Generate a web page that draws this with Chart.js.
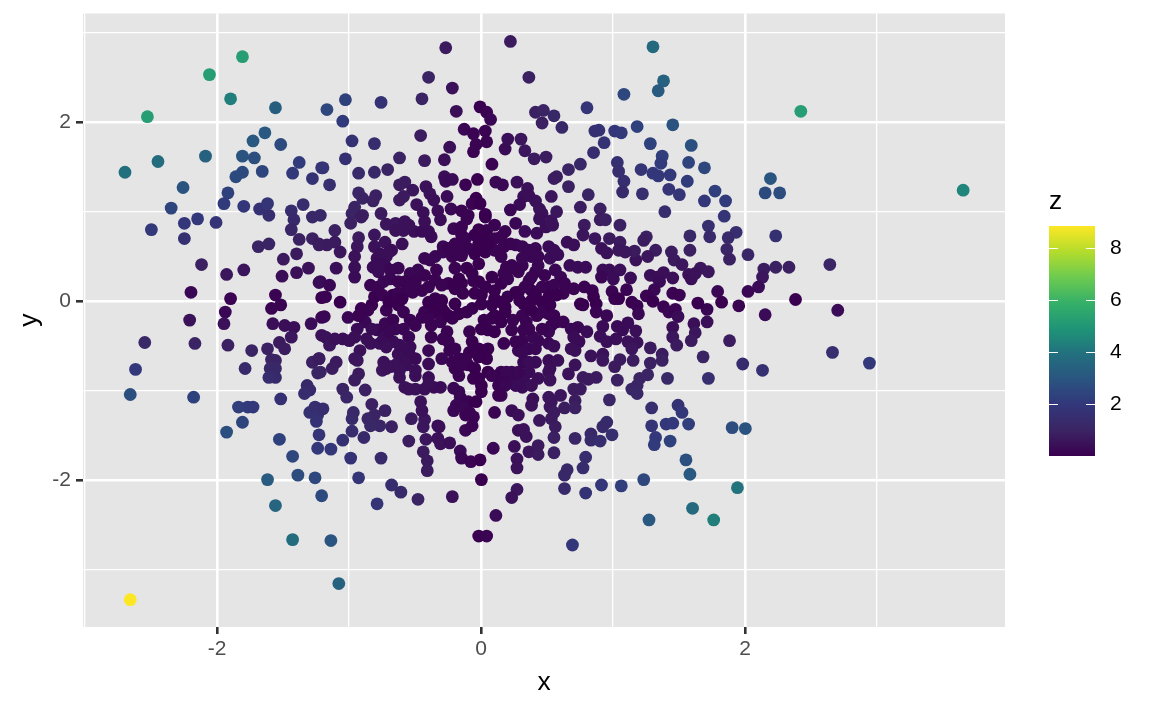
<!DOCTYPE html>
<html>
<head>
<meta charset="utf-8">
<title>x y z scatter</title>
<script src="https://cdn.jsdelivr.net/npm/chart.js@4"></script>
<style>
  html, body { margin: 0; padding: 0; background: #fff; }
  canvas { display: block; }
</style>
</head>
<body>
<canvas id="chart-scatter" width="1152" height="711"></canvas>
<script>
// values, grouped by area of the plot
const leftX = [-1.80,-2.05,-1.89,-1.55,-2.52,-1.63,-1.72,-1.51,-2.44,-2.08,
  -1.80,-1.71,-2.69,-1.37,-1.80,-1.65,-1.85,-1.42,-1.27,-1.20,
  -2.25,-1.91,-1.94,-1.79,-1.67,-1.61,-1.60,-1.34,-1.43,-2.34,
  -2.24,-2.14,-2.00,-2.49,-2.24,-1.41,-1.43,-1.37,-1.27,-1.22,
  -1.27,-1.68,-1.60,-1.49,-1.39,-2.11,-1.79,-1.92,-1.50,-1.39,
  -1.30,-1.22,-2.19,-1.89,-1.55,-1.51,-1.58,-1.93,-1.20,-2.20,
  -1.94,-1.57,-1.48,-1.41,-1.28,-1.20,-1.43,-1.52,-1.48,-1.61,
  -1.20,-1.91,-2.16,-2.54,-1.73,-1.55,-1.58,-1.55,-1.59,-1.78,
  -2.61,-1.55,-1.60,-1.27,-1.22,-1.23,-1.31,-1.29,-1.33,-2.65,
  -2.17,-1.51,-1.83,-1.76,-1.72,-1.80,-1.29,-1.25,-1.23,-1.24,
  -1.92,-1.52,-1.22,-1.23,-1.42,-1.61,-1.38,-1.25,-1.20,-1.55,
  -1.42,-2.65];
const leftY = [2.73,2.53,2.26,2.16,2.06,1.88,1.79,1.75,1.56,1.62,
  1.62,1.60,1.44,1.55,1.44,1.45,1.39,1.43,1.37,1.49,
  1.27,1.21,1.09,1.06,1.03,1.09,0.96,1.08,1.01,1.04,
  0.87,0.92,0.88,0.80,0.70,0.91,0.80,0.69,0.70,0.63,
  0.94,0.61,0.64,0.47,0.53,0.41,0.35,0.30,0.28,0.32,
  0.37,0.21,0.10,0.03,0.07,-0.04,-0.08,-0.12,0.04,-0.21,
  -0.25,-0.25,-0.27,-0.29,-0.25,-0.18,-0.40,-0.46,-0.53,-0.53,
  -0.38,-0.49,-0.47,-0.46,-0.55,-0.66,-0.65,-0.75,-0.75,-0.75,
  -0.76,-0.85,-0.85,-0.68,-0.64,-0.80,-0.94,-0.99,-1.03,-1.04,
  -1.07,-1.09,-1.18,-1.18,-1.18,-1.35,-1.24,-1.18,-1.27,-1.34,
  -1.46,-1.54,-1.49,-1.64,-1.73,-1.99,-1.94,-1.97,-2.17,-2.28,
  -2.66,-3.33];
const leftZ = [5.2,5.2,4.3,3.3,5.2,3.1,3.1,2.6,3.8,3.4,
  2.9,2.7,3.9,2.1,2.6,2.4,2.6,2.0,1.7,1.8,
  2.9,2.3,2.1,1.9,1.7,1.8,1.5,1.4,1.4,2.4,
  1.9,2.0,1.8,2.0,1.6,1.3,1.1,0.9,0.9,0.8,
  1.2,1.0,1.0,0.7,0.7,0.9,0.6,0.6,0.4,0.4,
  0.5,0.3,0.2,0.1,0.1,0.1,0.1,0.2,0.0,0.5,
  0.5,0.4,0.4,0.4,0.3,0.2,0.6,0.7,0.8,0.9,
  0.5,0.9,1.0,1.2,1.0,1.0,1.0,1.2,1.2,1.3,
  2.0,1.3,1.4,0.9,0.8,1.0,1.2,1.3,1.4,2.8,
  2.3,1.6,2.2,2.1,2.0,2.4,1.6,1.5,1.6,1.7,
  2.8,2.3,1.8,2.0,2.5,3.2,2.7,2.5,2.6,3.5,
  3.8,8.85];

const topX = [0.23,-0.26,0.37,-0.39,-0.21,-0.44,-0.75,-1.02,-1.16,-1.04,
  -0.18,0.00,0.05,0.08,0.42,0.48,0.56,0.47,-0.12,-0.05,
  0.04,0.05,-0.03,-0.05,-0.23,-0.45,-0.80,-0.97,0.21,0.31,
  0.19,0.34,0.41,0.50,-0.61,-1.02,-1.19,-0.42,-0.27,0.09,
  -0.70,-0.80,-0.92,-1.14,-0.27,-0.26,-0.21,-0.11,-0.02,0.12,
  0.17,0.28,0.36,0.56,-0.57,-0.61,-0.51,-0.41,-0.38,-0.35,
  -0.25,-0.03,-0.06,0.00,-0.92,-0.89,-0.79,-0.81,-0.58,-0.61,
  -0.48,0.54,0.33,0.42,0.30,0.23,-0.22,-0.14,-0.32,-0.43,
  -0.95,-0.97,-0.89,-0.75,-1.21,0.45,0.04,-0.09,0.47,0.37];
const topY = [2.90,2.83,2.50,2.50,2.38,2.26,2.22,2.25,2.14,2.01,
  2.12,2.17,2.11,2.03,2.11,2.13,2.07,1.99,1.92,1.87,
  1.90,1.78,1.75,1.67,1.72,1.85,1.76,1.79,1.81,1.81,
  1.70,1.68,1.59,1.61,1.60,1.59,1.49,1.57,1.58,1.53,
  1.47,1.44,1.43,1.30,1.39,1.34,1.36,1.30,1.36,1.33,
  1.30,1.33,1.26,1.37,1.33,1.30,1.24,1.28,1.20,1.13,
  1.17,1.15,1.09,1.09,1.21,1.15,1.18,1.12,1.17,1.13,
  1.08,1.17,1.17,1.12,1.08,1.02,1.03,1.01,1.01,0.99,
  1.05,0.98,0.96,0.98,0.96,1.03,0.97,0.96,0.98,1.18];
const topZ = [0.7,0.7,0.9,1.0,0.5,1.0,1.7,2.3,2.5,2.1,
  0.4,0.0,0.1,0.2,0.9,1.0,1.2,0.9,0.2,0.1,
  0.1,0.1,0.1,0.1,0.4,0.8,1.4,1.7,0.4,0.6,
  0.3,0.6,0.7,0.8,1.0,1.6,1.8,0.7,0.4,0.1,
  1.0,1.2,1.3,1.5,0.4,0.3,0.3,0.1,0.0,0.2,
  0.2,0.4,0.5,0.8,0.8,0.8,0.6,0.5,0.5,0.4,
  0.3,0.0,0.1,0.0,1.1,1.0,0.9,0.9,0.7,0.7,
  0.5,0.6,0.4,0.5,0.3,0.2,0.2,0.1,0.3,0.4,
  1.0,1.0,0.9,0.7,1.2,0.5,0.0,0.1,0.5,0.4];

const upperMidX = [-0.98,-0.90,-1.10,-0.71,-0.64,-0.57,-0.58,-0.50,-0.44,-0.37,
  -0.42,-0.30,-0.20,-0.14,-0.10,0.04,-0.01,0.05,0.11,0.19,
  0.27,0.34,0.43,0.50,0.45,0.54,-1.16,-1.10,-1.06,-0.92,
  -0.93,-0.80,-0.80,-0.72,-0.67,-0.59,-1.22,0.03,-0.14,-0.19,
  0.11,0.18,0.27,0.32,0.42,0.52,-0.01,-0.09,-0.28,-0.34,
  -0.95,-0.95,-0.71,-0.78,-0.81,-0.62,-0.72,-0.38,-0.33,-0.28,
  -0.21,-0.14,-0.01,-0.10,-0.04,0.16,0.24,0.32,0.39,0.04,
  0.11,-1.09];
const upperMidY = [0.87,0.94,0.79,0.86,0.87,0.89,0.79,0.78,0.78,0.72,
  0.89,0.91,0.81,0.83,0.92,0.94,0.80,0.79,0.85,0.78,
  0.87,0.78,0.76,0.83,0.92,0.90,0.63,0.66,0.55,0.71,
  0.61,0.74,0.61,0.66,0.57,0.64,0.64,0.68,0.74,0.64,
  0.70,0.61,0.63,0.61,0.59,0.61,0.64,0.59,0.61,0.50,
  0.50,0.38,0.50,0.48,0.38,0.37,0.40,0.46,0.35,0.55,
  0.50,0.51,0.42,0.37,0.53,0.50,0.40,0.40,0.50,0.55,
  0.57,0.37];
const upperMidZ = [0.9,0.8,0.9,0.6,0.6,0.5,0.5,0.4,0.3,0.3,
  0.4,0.3,0.2,0.1,0.1,0.0,0.0,0.0,0.1,0.1,
  0.2,0.3,0.3,0.4,0.4,0.5,0.7,0.7,0.6,0.7,
  0.6,0.6,0.5,0.5,0.4,0.4,0.8,0.0,0.1,0.1,
  0.1,0.1,0.2,0.2,0.2,0.3,0.0,0.1,0.2,0.2,
  0.5,0.4,0.4,0.4,0.3,0.2,0.3,0.2,0.1,0.2,
  0.1,0.1,0.0,0.0,0.0,0.1,0.1,0.1,0.2,0.0,
  0.1,0.4];

const midX = [-0.95,-1.21,-1.14,-0.77,-0.68,-0.83,-0.77,-0.53,-0.47,-0.42,
  -0.57,-0.34,-0.24,-0.16,-0.19,-0.05,0.09,0.18,0.25,0.42,
  0.52,0.49,0.37,0.29,0.39,-0.04,0.04,0.16,0.11,-1.17,
  -1.06,-0.80,-0.66,-0.57,-0.44,-0.29,-0.37,-0.13,-0.06,-0.19,
  -0.62,-0.90,-0.82,-0.71,-0.58,-0.42,-0.34,-0.27,0.01,0.09,
  0.21,0.19,0.30,0.39,0.47,0.54,-1.00,-1.18,-0.87,-0.93,
  -0.72,-0.78,-0.66,-0.53,-0.44,-0.30,-0.21,-0.16,-0.10,-0.58,
  -0.37,-0.25,0.03,0.11,0.25,0.19,0.35,0.43,0.52,0.54,
  0.06,0.33];
const midY = [0.27,0.22,0.18,0.33,0.25,0.18,0.16,0.31,0.35,0.29,
  0.22,0.24,0.20,0.25,0.37,0.23,0.27,0.31,0.37,0.33,
  0.16,0.29,0.23,0.10,0.12,0.09,0.16,0.20,0.12,0.05,
  -0.01,0.05,0.07,0.10,0.12,0.01,-0.03,0.09,-0.08,-0.03,
  -0.04,-0.08,-0.04,-0.10,-0.12,-0.12,-0.12,-0.12,-0.03,-0.04,
  0.05,-0.06,0.01,0.01,-0.01,0.07,-0.18,-0.17,-0.23,-0.31,
  -0.25,-0.32,-0.21,-0.21,-0.18,-0.23,-0.19,-0.14,-0.12,-0.31,
  -0.27,-0.34,-0.21,-0.16,-0.21,-0.12,-0.23,-0.16,-0.14,-0.27,
  -0.32,-0.32];
const midZ = [0.3,0.3,0.2,0.3,0.2,0.1,0.1,0.2,0.2,0.1,
  0.1,0.1,0.0,0.0,0.1,0.0,0.0,0.1,0.1,0.1,
  0.1,0.1,0.1,0.0,0.0,0.0,0.0,0.0,0.0,0.1,
  0.0,0.0,0.0,0.1,0.1,0.0,0.0,0.0,0.0,0.0,
  0.0,0.1,0.0,0.1,0.1,0.1,0.0,0.0,0.0,0.0,
  0.0,0.0,0.0,0.0,0.0,0.0,0.2,0.2,0.2,0.3,
  0.2,0.2,0.1,0.1,0.1,0.1,0.0,0.0,0.0,0.2,
  0.1,0.1,0.0,0.0,0.1,0.0,0.1,0.1,0.1,0.1,
  0.0,0.1];

const lowerMidX = [-1.17,-1.04,-0.95,-0.86,-1.14,-0.76,-0.66,-0.54,-0.37,-0.28,
  -0.08,-0.06,0.18,0.32,0.44,0.52,-0.73,0.06,0.37,0.40,
  0.29,-0.91,-0.62,-0.53,-0.39,-0.23,-0.29,-0.39,-0.16,-0.08,
  -0.01,0.05,-0.95,-0.49,-0.73,-1.22,-1.09,-1.12,-1.21,-0.74,
  -0.64,-0.56,-0.19,-0.09,0.16,0.24,0.33,0.42,0.52,0.06,
  0.37,-0.92,-0.95,-0.61,-0.49,-0.39,-0.16,-0.05,0.24,0.33,
  0.14,0.44,0.52,-1.04,-0.87,-0.57,-0.49,-0.42,-0.30,-0.20,
  0.01,0.32,0.39,-1.01,-0.15,-0.09,-0.45,-0.18,-0.20,-0.03,
  0.16,0.40,0.52,0.39,0.53,-0.82,-1.19,-0.72,-0.80,-0.96,
  -0.97,-0.11,-0.05,0.11,0.24,0.29,-0.52,-0.42,-0.32,0.45,
  0.54,-0.85,-0.44];
const lowerMidY = [-0.40,-0.42,-0.40,-0.42,-0.49,-0.47,-0.45,-0.40,-0.40,-0.42,
  -0.34,-0.45,-0.47,-0.44,-0.44,-0.47,-0.42,-0.53,-0.53,-0.40,
  -0.55,-0.55,-0.59,-0.51,-0.55,-0.55,-0.64,-0.70,-0.64,-0.57,
  -0.62,-0.64,-0.64,-0.64,-0.68,-0.64,-0.68,-0.75,-0.79,-0.77,
  -0.71,-0.71,-0.75,-0.71,-0.79,-0.79,-0.68,-0.68,-0.66,-0.79,
  -0.79,-0.81,-0.88,-0.85,-0.83,-0.85,-0.83,-0.86,-0.88,-0.88,
  -0.94,-0.86,-0.79,-0.98,-0.99,-0.96,-0.98,-0.98,-0.96,-0.97,
  -0.94,-0.96,-0.94,-1.07,-1.07,-1.12,-1.12,-1.16,-1.22,-1.12,
  -1.05,-1.09,-1.07,-1.16,-1.18,-1.15,-1.20,-1.22,-1.27,-1.24,
  -1.31,-1.27,-1.29,-1.24,-1.22,-1.27,-1.31,-1.32,-1.39,-1.33,
  -1.31,-1.31,-1.22];
const lowerMidZ = [0.5,0.4,0.4,0.4,0.6,0.4,0.3,0.2,0.1,0.1,
  0.0,0.0,0.1,0.1,0.2,0.2,0.3,0.0,0.2,0.2,
  0.2,0.5,0.4,0.3,0.2,0.1,0.2,0.3,0.1,0.0,
  0.0,0.0,0.6,0.3,0.5,0.8,0.7,0.8,1.0,0.6,
  0.5,0.4,0.1,0.1,0.1,0.2,0.2,0.3,0.3,0.0,
  0.3,0.7,0.8,0.5,0.4,0.3,0.1,0.0,0.2,0.3,
  0.1,0.4,0.4,1.0,0.9,0.5,0.5,0.4,0.3,0.2,
  0.0,0.3,0.4,1.1,0.2,0.1,0.5,0.2,0.2,0.0,
  0.2,0.4,0.6,0.5,0.6,0.9,1.4,0.9,1.0,1.2,
  1.3,0.1,0.1,0.1,0.3,0.4,0.7,0.6,0.4,0.6,
  0.7,1.1,0.5];

// the solid middle of the cloud, where single points can't be told apart
const denseX = [-0.73,-0.74,-0.69,-0.62,-0.49,-0.51,-0.39,-0.34,-0.29,-0.24,
  -0.39,-0.49,-0.64,-0.69,-0.82,-0.71,-0.61,-0.54,-0.57,-0.49,
  -0.68,-0.24,-0.19,-0.11,-0.14,-0.04,-0.01,0.01,-0.16,-0.13,
  -0.08,-0.01,0.11,0.01,0.09,0.16,0.24,0.32,0.37,0.27,
  0.32,0.42,0.52,0.47,0.37,0.29,0.27,0.16,0.11,0.16,
  0.27,0.34,0.47,0.42,0.01,-0.01,-0.06,-0.14,-0.19,-0.29,
  -0.39,-0.42,-0.24,-0.16,-0.11,-0.04,0.06,0.16,0.23,0.37,
  0.32,0.44,0.29,0.21,0.20,0.44,0.39,0.52,0.47,0.39,
  0.33,-0.69,-0.76,-0.77,-0.64,-0.54,-0.39,-0.68,-0.62,-0.54,
  -0.59,-0.85,-0.92,-1.10,-0.99,-0.83,-0.93,-0.71,-0.61,-0.54,
  -0.35,-0.39,-0.21,0.20,0.19,0.14,0.09];
const denseY = [0.22,0.07,-0.01,0.09,0.22,0.10,-0.01,0.03,-0.08,-0.16,
  -0.19,-0.27,-0.31,-0.34,-0.31,-0.51,-0.49,-0.57,-0.68,-0.77,
  -0.73,-0.45,-0.53,-0.64,-0.71,-0.75,-0.86,-1.01,-1.01,-1.18,
  -1.24,-0.53,-0.34,-0.31,-0.19,-0.23,-0.32,-0.16,-0.31,-0.45,
  -0.57,-0.53,-0.34,-0.31,-0.68,-0.79,-0.94,-0.86,0.03,-0.01,
  0.10,0.16,0.16,0.07,0.07,0.22,0.31,0.20,0.14,0.18,
  0.16,0.48,0.59,0.59,0.70,0.74,0.64,0.72,0.64,0.57,
  0.48,0.50,0.33,0.25,0.38,0.40,0.27,0.05,-0.12,-0.10,
  -0.03,0.55,0.53,0.42,0.79,0.85,0.78,0.35,0.22,0.12,
  0.03,-0.10,-0.16,-0.42,-0.44,-0.47,-0.66,-0.75,-0.77,-0.98,
  -0.96,-0.92,-0.68,-0.79,-0.94,-1.05,-0.83];
const denseZ = [0.2,0.1,0.0,0.1,0.1,0.1,0.0,0.0,0.0,0.0,
  0.1,0.1,0.2,0.2,0.3,0.4,0.3,0.3,0.4,0.4,
  0.5,0.1,0.1,0.1,0.1,0.0,0.0,0.0,0.2,0.2,
  0.1,0.0,0.0,0.0,0.0,0.0,0.1,0.1,0.1,0.1,
  0.2,0.2,0.2,0.1,0.3,0.2,0.3,0.1,0.0,0.0,
  0.0,0.1,0.1,0.0,0.0,0.0,0.0,0.0,0.0,0.1,
  0.1,0.2,0.1,0.1,0.1,0.0,0.0,0.1,0.1,0.2,
  0.2,0.2,0.1,0.1,0.1,0.2,0.1,0.0,0.1,0.0,
  0.0,0.4,0.4,0.3,0.5,0.5,0.3,0.2,0.1,0.1,
  0.0,0.1,0.1,0.5,0.4,0.4,0.6,0.5,0.5,0.5,
  0.3,0.4,0.1,0.2,0.2,0.1,0.1];

const bottomX = [-0.97,-0.88,-1.04,-1.13,-0.98,-0.75,-0.54,-0.41,-0.32,-0.30,
  -0.23,-0.15,-0.43,-0.14,-0.07,0.00,-0.40,-0.40,0.10,0.26,
  0.28,0.28,0.37,0.44,0.44,0.56,0.35,0.29,0.33,0.56,
  -0.11,-0.06,-0.43,-0.31,-0.67,-0.76,-0.83,-0.92,-0.67,-0.60,
  -0.47,-0.78,-0.21,0.01,0.28,0.24,0.12,-0.01,0.05,-1.13,
  -1.07];
const bottomY = [-1.45,-1.52,-1.55,-1.65,-1.75,-1.75,-1.56,-1.54,-1.53,-1.59,
  -1.58,-1.67,-1.68,-1.75,-1.79,-1.77,-1.78,-1.89,-1.64,-1.62,
  -1.76,-1.86,-1.68,-1.61,-1.71,-1.69,-1.51,-1.44,-1.43,-1.52,
  -1.44,-1.39,-1.40,-1.40,-1.40,-1.39,-1.39,-1.97,-2.05,-2.13,
  -2.21,-2.26,-2.18,-1.99,-2.10,-2.19,-2.39,-2.62,-2.62,-2.67,
  -3.15];
const bottomZ = [1.4,1.3,1.6,1.9,1.7,1.3,0.8,0.6,0.5,0.5,
  0.4,0.3,0.7,0.2,0.1,0.0,0.7,0.8,0.2,0.4,
  0.5,0.5,0.6,0.7,0.7,0.9,0.5,0.4,0.5,0.9,
  0.2,0.1,0.6,0.4,0.9,1.1,1.2,1.8,1.4,1.3,
  1.0,1.8,0.5,0.0,0.6,0.5,0.3,0.0,0.1,3.0,
  3.4];

const upperRightX = [1.31,1.39,1.35,1.09,0.81,0.62,0.90,0.87,1.02,1.07,
  1.19,1.46,0.94,0.86,1.29,1.60,1.38,1.37,1.58,1.70,
  0.76,0.67,0.58,1.04,1.05,1.09,1.08,1.22,1.31,1.35,
  1.44,1.57,0.67,1.43,1.51,1.23,0.82,1.78,1.70,1.86,
  2.20,2.16,2.27,0.76,0.91,0.58,1.40,1.85,2.43,3.66];
const upperRightY = [2.84,2.46,2.35,2.31,2.16,1.94,1.91,1.90,1.90,1.88,
  1.95,1.97,1.77,1.66,1.76,1.74,1.62,1.54,1.55,1.49,
  1.53,1.47,1.39,1.55,1.45,1.34,1.22,1.47,1.43,1.40,
  1.41,1.34,1.28,1.25,1.19,1.20,1.19,1.23,1.12,1.12,
  1.37,1.21,1.21,1.05,1.03,1.00,1.00,0.95,2.12,1.24];
const upperRightZ = [3.7,3.4,3.2,2.5,1.8,1.2,1.7,1.6,1.9,2.0,
  2.3,2.9,1.7,1.4,2.3,2.8,2.2,2.1,2.4,2.5,
  1.2,1.0,0.8,1.6,1.5,1.5,1.3,1.8,1.9,1.9,
  2.0,2.1,0.9,1.8,1.8,1.5,1.0,2.2,1.9,2.1,
  3.0,2.6,2.7,0.8,0.9,0.6,1.4,1.8,5.2,4.5];

const rightX = [0.91,0.95,1.06,0.79,0.55,1.73,1.74,1.59,1.94,1.88,
  2.24,1.26,1.24,0.78,0.87,0.98,1.06,0.66,0.71,1.59,
  1.87,1.89,2.03,1.45,1.33,1.27,1.18,1.17,0.92,0.96,
  1.05,1.10,1.47,1.53,0.56,0.59,0.53,0.68,0.74,0.80,
  0.57,0.61,0.64,0.93,0.98,1.06,0.92,1.01,1.14,1.29,
  1.34,1.39,1.36,1.46,1.58,1.60,1.67,1.73,1.63,2.15,
  2.14,2.24,2.34,2.11,2.03,1.80,1.83,1.96,2.16,1.72,
  1.65,1.72,0.56,0.63,0.58,0.71,0.79,0.85,0.86,0.88,
  0.88,0.96,1.00,1.11,1.02,1.05,1.32,1.26,1.31,1.46,
  1.51,0.76,0.78,1.15,1.19,1.20,1.39,1.43,1.48,1.50,
  0.53,0.56,0.58,0.63,0.74,0.69,0.81,0.71,0.93,1.04,
  1.12,1.18,1.08,1.46,1.62,1.63,1.46,1.60,1.49,0.91,
  0.96,1.03,1.12,1.19,1.15,1.29,1.89,0.56,0.75,0.69,
  0.72,0.84,0.93,0.93,1.38,1.38,1.29,1.69,1.99,2.14,
  0.59,0.53,0.72,1.06,1.02,1.16,0.67,0.88,0.78,0.82,
  1.04,1.27,1.21,1.19,1.15,1.19,1.42,1.73,0.53,0.71,
  0.76,0.61,0.72,0.54,0.98,0.64,0.72,0.56,1.30,1.50,
  1.53,2.65,2.39,2.71,2.67,2.95];
const rightY = [0.91,0.91,0.85,0.85,0.85,0.84,0.72,0.73,0.77,0.71,
  0.73,0.72,0.68,0.74,0.70,0.70,0.66,0.66,0.63,0.57,
  0.58,0.47,0.52,0.55,0.57,0.50,0.46,0.56,0.59,0.54,
  0.57,0.55,0.46,0.41,0.57,0.52,0.48,0.40,0.38,0.38,
  0.35,0.27,0.20,0.35,0.35,0.35,0.27,0.25,0.26,0.29,
  0.27,0.32,0.22,0.26,0.30,0.25,0.37,0.33,0.31,0.36,
  0.27,0.38,0.38,0.16,0.11,0.11,-0.01,-0.05,-0.15,-0.09,
  -0.02,-0.23,0.18,0.09,0.07,0.14,0.16,0.12,0.05,-0.03,
  -0.12,-0.16,0.11,0.13,0.03,0.03,0.13,0.06,0.00,0.09,
  0.07,-0.03,-0.04,-0.01,-0.05,-0.14,-0.06,-0.12,-0.09,-0.17,
  -0.04,-0.16,-0.23,-0.23,-0.29,-0.31,-0.34,-0.40,-0.28,-0.28,
  -0.24,-0.33,-0.32,-0.29,-0.25,-0.35,-0.40,-0.44,-0.49,-0.39,
  -0.45,-0.42,-0.45,-0.46,-0.53,-0.52,-0.44,-0.50,-0.45,-0.53,
  -0.55,-0.61,-0.59,-0.66,-0.59,-0.66,-0.69,-0.62,-0.70,-0.77,
  -0.66,-0.75,-0.71,-0.65,-0.73,-0.66,-0.81,-0.85,-0.85,-0.87,
  -0.88,-0.82,-0.86,-0.94,-0.98,-1.03,-0.86,-0.86,-0.88,-0.98,
  -0.98,-1.05,-1.11,-1.12,-1.10,-1.19,-1.19,-1.24,-1.19,-1.16,
  -1.24,0.41,0.02,-0.10,-0.57,-0.69];
const rightZ = [0.8,0.9,0.9,0.7,0.5,1.5,1.3,1.2,1.5,1.3,
  1.6,0.9,0.8,0.6,0.6,0.7,0.7,0.4,0.4,0.9,
  1.1,0.9,1.1,0.8,0.8,0.6,0.5,0.7,0.5,0.5,
  0.6,0.6,0.7,0.6,0.3,0.3,0.3,0.3,0.3,0.3,
  0.2,0.2,0.1,0.3,0.3,0.4,0.2,0.3,0.3,0.4,
  0.4,0.4,0.3,0.4,0.5,0.4,0.6,0.6,0.5,0.8,
  0.6,0.9,0.9,0.3,0.2,0.2,0.0,0.1,0.3,0.2,
  0.0,0.4,0.1,0.1,0.0,0.1,0.1,0.1,0.0,0.0,
  0.1,0.2,0.1,0.1,0.0,0.0,0.2,0.1,0.0,0.1,
  0.1,0.0,0.0,0.0,0.1,0.2,0.1,0.2,0.1,0.3,
  0.0,0.1,0.1,0.1,0.2,0.2,0.3,0.3,0.3,0.3,
  0.3,0.4,0.3,0.4,0.4,0.6,0.6,0.7,0.7,0.4,
  0.4,0.4,0.5,0.5,0.6,0.7,0.8,0.3,0.3,0.4,
  0.4,0.5,0.5,0.6,0.8,0.9,0.9,1.0,1.4,1.6,
  0.4,0.4,0.5,0.7,0.7,0.8,0.5,0.7,0.7,0.7,
  0.9,1.0,1.0,1.1,1.1,1.2,1.2,1.5,0.5,0.7,
  0.7,0.6,0.8,0.6,1.1,0.8,0.9,0.7,1.5,1.7,
  1.9,1.1,0.0,0.3,1.5,2.0];

const lowerRightX = [1.91,2.01,0.57,0.72,0.84,0.84,0.91,1.00,0.93,0.96,
  1.30,1.41,1.46,1.58,1.33,1.32,1.44,1.56,1.59,0.80,
  0.78,0.66,0.64,0.64,0.80,0.92,1.07,1.24,1.95,1.61,
  1.28,1.77,0.70];
const lowerRightY = [-1.41,-1.42,-1.40,-1.53,-1.48,-1.55,-1.56,-1.49,-1.40,-1.35,
  -1.39,-1.37,-1.36,-1.37,-1.52,-1.60,-1.56,-1.77,-1.93,-1.74,
  -1.86,-1.88,-1.94,-2.09,-2.14,-2.05,-2.06,-1.99,-2.08,-2.31,
  -2.44,-2.44,-2.72];
const lowerRightZ = [2.7,2.9,0.8,1.1,1.2,1.3,1.4,1.5,1.3,1.3,
  1.8,1.9,2.0,2.2,2.0,2.1,2.3,2.8,3.1,1.4,
  1.4,1.2,1.2,1.3,1.7,1.9,2.2,2.5,4.0,3.7,
  3.1,4.3,1.9];

const xValues = [...leftX, ...topX, ...upperMidX, ...midX, ...lowerMidX, ...denseX, ...bottomX, ...upperRightX, ...rightX, ...lowerRightX];
const yValues = [...leftY, ...topY, ...upperMidY, ...midY, ...lowerMidY, ...denseY, ...bottomY, ...upperRightY, ...rightY, ...lowerRightY];
const zValues = [...leftZ, ...topZ, ...upperMidZ, ...midZ, ...lowerMidZ, ...denseZ, ...bottomZ, ...upperRightZ, ...rightZ, ...lowerRightZ];

const xTicks = [-3, -2, -1, 0, 1, 2, 3];
const yTicks = [-3, -2, -1, 0, 1, 2, 3];
const labelledTicks = [-2, 0, 2];
const zTicks = [2, 4, 6, 8];
const zMax = 8.85;

// x was read against a gridline 1px too far left
const xReadingOffset = -0.007;

// viridis, evenly spaced from 0 to zMax
const viridis = ["#3a0050", "#3b2463", "#32377a", "#2a5480", "#22707e", "#1f9577", "#36b068", "#6dcb4f", "#b4dc2c", "#fde725"];

function hexToRgb(hex) {
  return [1, 3, 5].map((i) => parseInt(hex.substr(i, 2), 16));
}

function colourFor(z) {
  const t = (Math.min(Math.max(z, 0), zMax) / zMax) * (viridis.length - 1);
  const i = Math.min(Math.floor(t), viridis.length - 2);
  const a = hexToRgb(viridis[i]);
  const b = hexToRgb(viridis[i + 1]);
  const c = a.map((v, k) => Math.round(v + (b[k] - v) * (t - i)));
  return "rgb(" + c.join(",") + ")";
}

const panelPlugin = {
  id: "panel",
  beforeDraw(chart) {
    const { ctx, chartArea: a } = chart;
    ctx.save();
    ctx.fillStyle = "#e5e5e5";
    ctx.fillRect(a.left, a.top, a.right - a.left, a.bottom - a.top);
    ctx.restore();
  },
};

// ggplot style colour bar, on the right of the panel
const colourBarPlugin = {
  id: "colourBar",
  afterDraw(chart) {
    const ctx = chart.ctx;
    const left = 1049, right = 1095, top = 226, bottom = 456;
    const yOf = (z) => bottom - ((bottom - top) * z) / zMax;
    ctx.save();
    const grad = ctx.createLinearGradient(0, bottom, 0, top);
    viridis.forEach((c, i) => grad.addColorStop(i / (viridis.length - 1), c));
    ctx.fillStyle = grad;
    ctx.fillRect(left, top, right - left, bottom - top);

    ctx.strokeStyle = "#ffffff";
    ctx.lineWidth = 1;
    ctx.fillStyle = "#000000";
    ctx.font = '21px "Liberation Sans"';
    ctx.textBaseline = "middle";
    ctx.textAlign = "left";
    zTicks.forEach((z) => {
      const y = Math.round(yOf(z)) + 0.5;
      ctx.beginPath();
      ctx.moveTo(left, y);
      ctx.lineTo(left + 9, y);
      ctx.moveTo(right - 9, y);
      ctx.lineTo(right, y);
      ctx.stroke();
      ctx.fillText(String(z), 1110, y);
    });
    ctx.font = '26.4px "Liberation Sans"';
    ctx.textBaseline = "alphabetic";
    ctx.fillText("z", 1049, 209);
    ctx.restore();
  },
};

function axisGrid() {
  const major = (c) => labelledTicks.includes(c.tick.value);
  return {
    color: "#ffffff",
    lineWidth: (c) => (major(c) ? 2.6 : 1.3),
    drawTicks: true,
    tickLength: 7,
    tickWidth: (c) => (major(c) ? 2.6 : 0),
    tickColor: (c) => (major(c) ? "#333333" : "rgba(0,0,0,0)"),
  };
}

function axisTicks(padding) {
  return {
    autoSkip: false,
    maxRotation: 0,
    padding: padding,
    color: "#4d4d4d",
    font: { size: 21, family: "Liberation Sans" },
    callback: (value) => (labelledTicks.includes(value) ? String(value) : ""),
  };
}

new Chart(document.getElementById("chart-scatter").getContext("2d"), {
  type: "scatter",
  plugins: [panelPlugin, colourBarPlugin],
  data: {
    datasets: [
      {
        label: "z",
        data: xValues.map((x, i) => ({ x: x + xReadingOffset, y: yValues[i] })),
        pointRadius: 6.4,
        pointBorderWidth: 0,
        pointBackgroundColor: zValues.map(colourFor),
      },
    ],
  },
  options: {
    responsive: false,
    animation: false,
    devicePixelRatio: 1,
    layout: { padding: { top: 13.5, right: 147, left: 0, bottom: 0 } },
    plugins: { legend: { display: false }, tooltip: { enabled: false } },
    scales: {
      x: {
        type: "linear",
        min: -3.015,
        max: 3.97,
        afterBuildTicks: (axis) => {
          axis.ticks = xTicks.map((v) => ({ value: v }));
        },
        afterFit: (axis) => {
          axis.height = 84;
          axis.paddingLeft = 0;
          axis.paddingRight = 0;
        },
        border: { display: false },
        grid: axisGrid(),
        ticks: axisTicks(3),
        title: {
          display: true,
          text: "x",
          color: "#000000",
          font: { size: 26.4, family: "Liberation Sans" },
          padding: { top: 0, bottom: 12.2 },
        },
      },
      y: {
        type: "linear",
        min: -3.635,
        max: 3.212,
        afterBuildTicks: (axis) => {
          axis.ticks = yTicks.map((v) => ({ value: v }));
        },
        afterFit: (axis) => {
          axis.width = 83;
          axis.paddingTop = 0;
          axis.paddingBottom = 0;
        },
        border: { display: false },
        grid: axisGrid(),
        ticks: axisTicks(5),
        title: {
          display: true,
          text: "y",
          color: "#000000",
          font: { size: 26.4, family: "Liberation Sans" },
          padding: { top: 14, bottom: 0 },
        },
      },
    },
  },
});
</script>
</body>
</html>
